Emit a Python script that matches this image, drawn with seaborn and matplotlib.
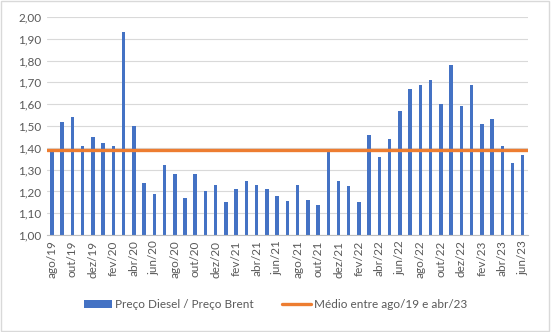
import matplotlib
matplotlib.use("Agg")
import matplotlib.pyplot as plt
import seaborn as sns
import pandas as pd
from matplotlib.patches import Patch, Rectangle
from matplotlib.lines import Line2D
from matplotlib.ticker import FuncFormatter

months = ["ago/19", "set/19", "out/19", "nov/19", "dez/19", "jan/20", "fev/20", "mar/20",
          "abr/20", "mai/20", "jun/20", "jul/20", "ago/20", "set/20", "out/20", "nov/20",
          "dez/20", "jan/21", "fev/21", "mar/21", "abr/21", "mai/21", "jun/21", "jul/21",
          "ago/21", "set/21", "out/21", "nov/21", "dez/21", "jan/22", "fev/22", "mar/22",
          "abr/22", "mai/22", "jun/22", "jul/22", "ago/22", "set/22", "out/22", "nov/22",
          "dez/22", "jan/23", "fev/23", "mar/23", "abr/23", "mai/23", "jun/23"]
ratio = [1.39, 1.52, 1.54, 1.41, 1.45, 1.42, 1.41, 1.93,
         1.50, 1.24, 1.19, 1.32, 1.28, 1.17, 1.28, 1.20,
         1.23, 1.15, 1.21, 1.25, 1.23, 1.21, 1.18, 1.155,
         1.23, 1.16, 1.14, 1.38, 1.25, 1.225, 1.15, 1.46,
         1.36, 1.44, 1.57, 1.67, 1.69, 1.71, 1.60, 1.78,
         1.59, 1.69, 1.51, 1.53, 1.41, 1.33, 1.365]
average = 1.39
bar_label = "Preço Diesel / Preço Brent"
avg_label = "Médio entre ago/19 e abr/23"

df = pd.DataFrame({"mes": months, "valor": ratio})

sns.set_style("white")
plt.rcParams["font.family"] = ["Lato", "DejaVu Sans"]

fig = plt.figure(figsize=(5.51, 3.32), dpi=100)
ax = fig.add_axes([0.085, 0.292, 0.873, 0.657])

blue = "#4472C4"
orange = "#ED7D31"

sns.barplot(data=df, x="mes", y="valor", color=blue, width=0.34, ax=ax,
            saturation=1, zorder=2, linewidth=0)
ax.axhline(average, color=orange, lw=2.4, zorder=3)

ax.set_ylim(1.0, 2.0)
ax.set_xlim(-0.5, len(months) - 0.5)
ax.set_yticks([1.0 + 0.1 * i for i in range(11)])
ax.yaxis.set_major_formatter(FuncFormatter(lambda v, p: f"{v:.2f}".replace(".", ",")))
ax.grid(axis="y", color="#D9D9D9", lw=0.8, zorder=0)
ax.set_axisbelow(True)

ax.set_xticks(range(0, len(months), 2))
ax.set_xticklabels(months[::2], rotation=90)
ax.set_xticks([i - 0.5 for i in range(0, len(months) + 1, 2)], minor=True)
ax.tick_params(axis="x", which="major", length=0, labelsize=8.5, colors="#595959", pad=4)
ax.tick_params(axis="x", which="minor", length=4, color="#BFBFBF", width=0.8)
ax.tick_params(axis="y", length=0, labelsize=8.5, colors="#595959", pad=4)
ax.set_xlabel("")
ax.set_ylabel("")
for s in ["top", "right", "left"]:
    ax.spines[s].set_visible(False)
ax.spines["bottom"].set_color("#BFBFBF")
ax.spines["bottom"].set_linewidth(0.8)

handles = [Patch(facecolor=blue, edgecolor="none"),
           Line2D([0], [0], color=orange, lw=2.4)]
fig.legend(handles, [bar_label, avg_label], loc="center", bbox_to_anchor=(0.5, 0.082),
           ncol=2, frameon=False, fontsize=8.5, handlelength=2.4, handleheight=0.6,
           handletextpad=0.3, columnspacing=2.4, labelcolor="#595959")

fig.patches.append(Rectangle((0.002, 0.003), 0.995, 0.993, transform=fig.transFigure,
                             fill=False, edgecolor="#D9D9D9", lw=1))

fig.savefig("out.png", dpi=100)
